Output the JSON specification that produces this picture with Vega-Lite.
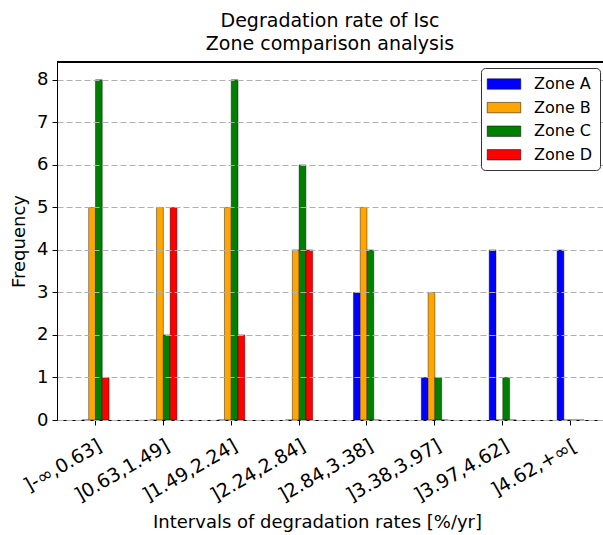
{
  "$schema": "https://vega.github.io/schema/vega-lite/v6.json",
  "width": 546,
  "height": 358,
  "autosize": {"type": "none"},
  "padding": {"left": 57, "top": 62, "right": 0, "bottom": 115},
  "background": "white",
  "config": {
    "font": "DejaVu Sans",
    "view": {"stroke": null},
    "axis": {"domainColor": "black", "tickColor": "black", "labelColor": "black", "titleColor": "black", "titleFontWeight": "normal", "domainWidth": 1, "tickWidth": 1}
  },
  "title": {
    "text": ["Degradation rate of Isc", "Zone comparison analysis"],
    "fontSize": 19,
    "fontWeight": "normal",
    "lineHeight": 23,
    "offset": 8,
    "color": "black"
  },
  "data": {
    "values": [
      {"interval": "]-∞,0.63]", "zone": "Zone A", "count": 0},
      {"interval": "]-∞,0.63]", "zone": "Zone B", "count": 5},
      {"interval": "]-∞,0.63]", "zone": "Zone C", "count": 8},
      {"interval": "]-∞,0.63]", "zone": "Zone D", "count": 1},
      {"interval": "]0.63,1.49]", "zone": "Zone A", "count": 0},
      {"interval": "]0.63,1.49]", "zone": "Zone B", "count": 5},
      {"interval": "]0.63,1.49]", "zone": "Zone C", "count": 2},
      {"interval": "]0.63,1.49]", "zone": "Zone D", "count": 5},
      {"interval": "]1.49,2.24]", "zone": "Zone A", "count": 0},
      {"interval": "]1.49,2.24]", "zone": "Zone B", "count": 5},
      {"interval": "]1.49,2.24]", "zone": "Zone C", "count": 8},
      {"interval": "]1.49,2.24]", "zone": "Zone D", "count": 2},
      {"interval": "]2.24,2.84]", "zone": "Zone A", "count": 0},
      {"interval": "]2.24,2.84]", "zone": "Zone B", "count": 4},
      {"interval": "]2.24,2.84]", "zone": "Zone C", "count": 6},
      {"interval": "]2.24,2.84]", "zone": "Zone D", "count": 4},
      {"interval": "]2.84,3.38]", "zone": "Zone A", "count": 3},
      {"interval": "]2.84,3.38]", "zone": "Zone B", "count": 5},
      {"interval": "]2.84,3.38]", "zone": "Zone C", "count": 4},
      {"interval": "]2.84,3.38]", "zone": "Zone D", "count": 0},
      {"interval": "]3.38,3.97]", "zone": "Zone A", "count": 1},
      {"interval": "]3.38,3.97]", "zone": "Zone B", "count": 3},
      {"interval": "]3.38,3.97]", "zone": "Zone C", "count": 1},
      {"interval": "]3.38,3.97]", "zone": "Zone D", "count": 0},
      {"interval": "]3.97,4.62]", "zone": "Zone A", "count": 4},
      {"interval": "]3.97,4.62]", "zone": "Zone B", "count": 0},
      {"interval": "]3.97,4.62]", "zone": "Zone C", "count": 1},
      {"interval": "]3.97,4.62]", "zone": "Zone D", "count": 0},
      {"interval": "]4.62,+∞[", "zone": "Zone A", "count": 4},
      {"interval": "]4.62,+∞[", "zone": "Zone B", "count": 0},
      {"interval": "]4.62,+∞[", "zone": "Zone C", "count": 0},
      {"interval": "]4.62,+∞[", "zone": "Zone D", "count": 0}
    ]
  },
  "layer": [
    {
      "mark": {"type": "bar", "stroke": "black", "strokeWidth": 0.5, "strokeOpacity": 0.8},
      "encoding": {
        "x": {
          "field": "interval",
          "type": "nominal",
          "sort": null,
          "scale": {"paddingInner": 0.6, "paddingOuter": 0.3215, "align": 0.57},
          "axis": {
            "title": "Intervals of degradation rates [%/yr]",
            "titleFontSize": 18,
            "titlePadding": 8,
            "titleX": 260,
            "labelAngle": -30,
            "labelAlign": "right",
            "labelBaseline": "top",
            "labelFontSize": 19,
            "labelPadding": 11,
            "labelDx": 12,
            "tickSize": 5,
            "grid": false
          }
        },
        "xOffset": {"field": "zone", "type": "nominal", "scale": {"paddingInner": 0, "paddingOuter": 0}},
        "y": {
          "field": "count",
          "type": "quantitative",
          "scale": {"domain": [0, 8.42], "nice": false},
          "axis": {
            "title": "Frequency",
            "titleFontSize": 18,
            "titlePadding": 8,
            "values": [0, 1, 2, 3, 4, 5, 6, 7, 8],
            "labelFontSize": 18,
            "labelPadding": 4,
            "tickSize": 5,
            "grid": true,
            "gridColor": "#b0b0b0",
            "gridDash": [6, 3],
            "gridWidth": 1,
            "zindex": 1
          }
        },
        "color": {
          "field": "zone",
          "type": "nominal",
          "scale": {"domain": ["Zone A", "Zone B", "Zone C", "Zone D"], "range": ["#0000ff", "#ffa500", "#008000", "#ff0000"]},
          "legend": {
            "title": null,
            "orient": "none",
            "legendX": 424,
            "legendY": 6,
            "zindex": 3,
            "padding": 7,
            "cornerRadius": 4,
            "strokeColor": "#333333",
            "fillColor": "white",
            "labelFontSize": 16,
            "labelColor": "black",
            "labelOffset": 21,
            "symbolType": "M-2,-0.62H2V0.62H-2Z",
            "symbolSize": 282,
            "symbolOffset": 7,
            "symbolStrokeColor": "black",
            "symbolStrokeWidth": 0.5,
            "symbolOpacity": 1,
            "rowPadding": 6.6
          }
        }
      }
    },
    {
      "mark": {"type": "rule", "color": "black", "strokeWidth": 1},
      "encoding": {"y": {"datum": 8.42}}
    }
  ]
}
